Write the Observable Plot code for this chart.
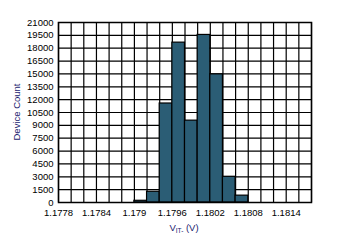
<!DOCTYPE html>
<html>
<head>
<meta charset="utf-8">
<script src="https://cdn.jsdelivr.net/npm/d3@7"></script>
<script src="https://cdn.jsdelivr.net/npm/@observablehq/plot@0.6"></script>
<style>
  html, body { margin: 0; padding: 0; background: #fff; }
  #chart { width: 340px; height: 243px; }
</style>
</head>
<body>
<div id="chart"></div>
<script>
const binStarts = [1.1790, 1.1792, 1.1794, 1.1796, 1.1798, 1.1800, 1.1802, 1.1804, 1.1806];
const counts = [200, 1250, 11550, 18650, 9550, 19550, 14950, 3000, 800];
const binWidth = 0.0002;
const xTickLabels = ["1.1778", "1.1784", "1.179", "1.1796", "1.1802", "1.1808", "1.1814"];
const yTicks = [0, 1500, 3000, 4500, 6000, 7500, 9000, 10500, 12000, 13500, 15000, 16500, 18000, 19500, 21000];
const xDomain = [1.1778, 1.1818];

const bins = binStarts.map((s, i) => ({x1: s, x2: +(s + binWidth).toFixed(4), y: counts[i]}));
const xGrid = d3.range(0, 21).map(i => +(xDomain[0] + i * binWidth).toFixed(4));
const xTicks = xTickLabels.map(Number);

const plot = Plot.plot({
  width: 340,
  height: 243,
  marginLeft: 58,
  marginRight: 29,
  marginTop: 22,
  marginBottom: 41,
  style: {fontFamily: "'Liberation Sans', Arial, sans-serif", fontSize: "9.5px", color: "#000", background: "#fff"},
  x: {domain: xDomain, ticks: xTicks, tickSize: 0, tickPadding: 7, tickFormat: d => xTickLabels[xTicks.indexOf(d)] ?? "", label: null},
  y: {domain: [0, 21000], ticks: yTicks, tickSize: 0, tickPadding: 5, tickFormat: d => String(d), label: null},
  marks: [
    Plot.ruleX(xGrid, {stroke: "#000", strokeWidth: 1.2}),
    Plot.ruleY(yTicks, {stroke: "#000", strokeWidth: 1.2}),
    Plot.rectY(bins, {x1: "x1", x2: "x2", y: "y", fill: "#2b5d75", stroke: "#000", strokeWidth: 1.2, inset: 0}),
    Plot.frame({stroke: "#000", strokeWidth: 1.5})
  ]
});
document.getElementById("chart").appendChild(plot);

const svg = d3.select(plot);
const font = "'Liberation Sans', Arial, sans-serif";
svg.append("text")
  .attr("transform", "translate(20,112) rotate(-90)")
  .attr("text-anchor", "middle")
  .attr("font-family", font)
  .attr("font-size", 9.5)
  .attr("fill", "#1a1a6e")
  .text("Device Count");
const xl = svg.append("text")
  .attr("x", 184)
  .attr("y", 231)
  .attr("text-anchor", "middle")
  .attr("font-family", font)
  .attr("font-size", 9.5)
  .attr("fill", "#1a1a6e");
xl.append("tspan").text("V");
xl.append("tspan").attr("font-size", 6.5).attr("dy", 2).text("IT-");
xl.append("tspan").attr("dy", -2).text(" (V)");
</script>
</body>
</html>
